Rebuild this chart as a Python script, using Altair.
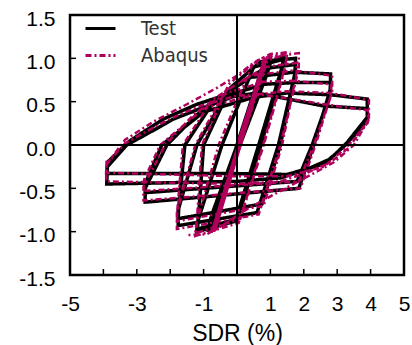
import altair as alt
import pandas as pd

MAG = "#b0005b"

# ---- Test (black) hysteresis path ----
test_x = [0, 0.3, -0.3, 0.32, -0.32, 0.5, -0.48, 0.52, -0.5, 0.75, -0.7, 0.78, -0.72,
          1.0, 0.85, -0.85, -0.7, 1.05, 0.88, -0.9, -0.75,
          0.9, 1.4, 1.35, 0.65, -0.05, -1.2, -1.15, -0.45, 0.5, 1.4, 1.35, 0.72, 0.0, -1.2, -1.15,
          -1.0, -0.2, 0.7, 1.75, 1.75, 1.24, 0.6, -1.76, -1.76,
          -1.2, -0.3, 0.8, 1.75, 1.72, 1.3, 0.75, -1.76, -1.74,
          -1.56, -0.7, 0.4, 1.7, 2.8, 2.8, 2.3, 1.85, -2.75, -2.75,
          -2.1, -1.2, -0.3, 0.8, 1.7, 2.8, 2.78, 2.25, 1.8, -2.75, -2.72,
          -2.25, -1.0, 0.5, 1.5, 2.8, 3.9, 3.9, 3.3, 2.8, 2.1, 1.3, 0.0, -3.9, -3.88,
          -3.3, -2.5, -1.9, -1.1, -0.1, 0.6, 2.6, 3.9, 3.9, 3.25, 2.6, 1.5, 0.0, -3.9, -3.88,
          -3.2, -2.2, -1.2, 0.0]
test_y = [0, 0.36, -0.36, 0.38, -0.38, 0.6, -0.6, 0.62, -0.62, 0.88, -0.86, 0.9, -0.88,
          1.0, 0.82, -1.0, -0.8, 1.0, 0.8, -1.0, -0.8,
          0.95, 1.02, 0.9, 0.0, -0.88, -1.0, -0.85, 0.0, 0.9, 0.99, 0.87, 0.0, -0.86, -0.97, -0.82,
          0.0, 0.66, 0.96, 1.0, 0.85, 0.0, -0.78, -0.93, -0.75,
          0.0, 0.6, 0.88, 0.93, 0.8, 0.0, -0.68, -0.85, -0.7,
          0.0, 0.5, 0.78, 0.84, 0.82, 0.65, 0.0, -0.5, -0.66, -0.5,
          0.0, 0.35, 0.57, 0.7, 0.72, 0.72, 0.58, 0.0, -0.42, -0.55, -0.42,
          0.0, 0.38, 0.55, 0.6, 0.58, 0.53, 0.32, 0.03, -0.16, -0.28, -0.38, -0.42, -0.45, -0.25,
          0.0, 0.17, 0.3, 0.42, 0.56, 0.6, 0.45, 0.42, 0.28, 0.0, -0.22, -0.34, -0.33, -0.33, -0.2,
          0.05, 0.3, 0.47, 0.62]

# ---- Abaqus (magenta, dash-dot) main path ----
abq_x = [-0.74, 0.95, 1.5, 1.45, 0.78, 0.05, -1.25, -1.2, -0.55, 0.45, 1.5, 1.45, 0.8, 0.1, -1.25, -1.2,
         -1.05, -0.25, 0.7, 1.85, 1.85, 1.3, 0.65, -1.8, -1.8,
         -1.25, -0.35, 0.85, 1.8, 1.78, 1.35, 0.8, -1.8, -1.78,
         -1.62, -0.75, 0.4, 1.7, 2.85, 2.85, 2.35, 1.9, -2.8, -2.8,
         -2.15, -1.25, -0.3, 0.8, 1.7, 2.82, 2.8, 2.3, 1.85, -2.8, -2.78,
         -2.3, -1.0, 0.5, 1.5, 2.8, 3.95, 3.95, 3.35, 2.8, 2.1, 1.3, 0.0, -3.92, -3.9,
         -3.35, -2.5, -1.9, -1.1, 0.0, 0.8, 2.6, 3.92, 3.92, 3.3, 2.6, 1.5, 0.0, -3.92, -3.9]
abq_y = [-1.0, 1.02, 1.07, 0.92, 0.0, -0.9, -1.05, -0.88, 0.0, 0.92, 1.05, 0.9, 0.0, -0.85, -1.02, -0.85,
         0.0, 0.7, 1.0, 1.06, 0.88, 0.0, -0.8, -0.97, -0.78,
         0.0, 0.62, 0.9, 0.95, 0.82, 0.0, -0.7, -0.88, -0.72,
         0.0, 0.52, 0.8, 0.86, 0.8, 0.62, 0.0, -0.5, -0.64, -0.48,
         0.0, 0.37, 0.6, 0.73, 0.74, 0.7, 0.55, 0.0, -0.42, -0.53, -0.4,
         0.0, 0.42, 0.58, 0.62, 0.6, 0.52, 0.3, -0.03, -0.2, -0.32, -0.42, -0.45, -0.42, -0.22,
         0.02, 0.2, 0.32, 0.45, 0.57, 0.58, 0.47, 0.4, 0.26, -0.02, -0.25, -0.36, -0.36, -0.32, -0.18]
# outer Abaqus curves (lower right and upper left)
abq_lr_x = [3.95, 3.5, 2.9, 2.28, 1.3, 0.3, -0.4, -0.9, -1.5]
abq_lr_y = [0.3, 0.0, -0.2, -0.33, -0.53, -0.74, -0.92, -1.03, -1.04]
abq_ul_x = [-3.9, -3.35, -2.5, -1.5, -0.6, 0.0, 0.5, 1.0, 1.6]
abq_ul_y = [-0.22, 0.06, 0.27, 0.47, 0.66, 0.8, 0.95, 1.05, 1.07]
# Abaqus elastic cycles (solid band)
band_x = [0, 0.84, -0.72, 0.9, -0.66, 0.8, -0.76, 0.87, -0.69, 0.82, -0.74]
band_y = [0, 1.0, -1.0, 1.02, -0.99, 0.98, -1.01, 1.0, -1.0, 0.99, -1.0]

x_tick_marks = [-4, -3, -2, -1, 1, 2, 3, 4]
y_tick_marks = [-1.0, -0.5, 0.5, 1.0]
x_labels = [-5, -3, -1, 1, 2, 3, 4, 5]
y_labels = [-1.5, -1.0, -0.5, 0.0, 0.5, 1.0, 1.5]

FONT = "Liberation Sans, Arial, sans-serif"
NARROW = "Liberation Sans Narrow, Arial Narrow, DejaVu Sans Condensed, Roboto Condensed, Liberation Sans, sans-serif"


def frame(xs, ys, series, seg):
    return pd.DataFrame({"x": xs, "y": ys, "series": series, "seg": seg,
                         "idx": list(range(len(xs)))})


test_df = frame(test_x, test_y, "Test", "T0")
abq_df = pd.concat([frame(abq_x, abq_y, "Abaqus", "A0"),
                    frame(abq_lr_x, abq_lr_y, "Abaqus", "A1"),
                    frame(abq_ul_x, abq_ul_y, "Abaqus", "A2")])
band_df = frame(band_x, band_y, "Abaqus", "B0")

xs = alt.Scale(domain=[-5, 5], nice=False, zero=False)
ys = alt.Scale(domain=[-1.5, 1.5], nice=False, zero=False)

x_axis = alt.Axis(values=x_labels, title="SDR (%)", grid=False, domain=False,
                  ticks=False, labelFontSize=21, labelFont=FONT,
                  labelExpr="(datum.value < 0 ? '-' : '') + format(abs(datum.value), 'd')",
                  labelColor="black", labelPadding=18, labelFlush=False,
                  titleFontSize=23, titleFont=FONT,
                  titleFontWeight="normal", titleColor="black", titlePadding=8)
y_axis = alt.Axis(values=y_labels, title=None, grid=False,
                  domain=False, ticks=False, labelFontSize=21,
                  labelExpr="(datum.value < 0 ? '-' : '') + format(abs(datum.value), '.1f')",
                  labelFont=FONT, labelColor="black",
                  labelPadding=15, labelOffset=4, labelFlush=False)

leg = alt.Legend(orient="none", legendX=14, legendY=-3, title=None,
                 symbolType="stroke", symbolSize=900, symbolStrokeWidth=3,
                 labelFontSize=20, labelFont=NARROW,
                 labelColor="#333", labelOffset=24, rowPadding=-12)
color = alt.Color("series:N", scale=alt.Scale(domain=["Test", "Abaqus"], range=["black", MAG]), legend=leg)
dash = alt.StrokeDash("series:N", scale=alt.Scale(domain=["Test", "Abaqus"], range=[[1, 0], [6, 3, 2, 3]]),
                      legend=leg)


def X(field):
    return alt.X(field, scale=xs, axis=x_axis)


def Y(field):
    return alt.Y(field, scale=ys, axis=y_axis)


test_layer = alt.Chart(test_df).mark_line(strokeWidth=3.5, strokeJoin="miter").encode(
    x=X("x:Q"), y=Y("y:Q"), color=color, strokeDash=dash, detail="seg:N", order="idx:Q")

abq_layer = alt.Chart(abq_df).mark_line(strokeWidth=2.5).encode(
    x=X("x:Q"), y=Y("y:Q"), color=color, strokeDash=dash, detail="seg:N", order="idx:Q")

band_layer = alt.Chart(band_df).mark_line(strokeWidth=2.5, color=MAG).encode(
    x=X("x:Q"), y=Y("y:Q"), detail="seg:N", order="idx:Q")

zero_x = alt.Chart(pd.DataFrame({"x": [0]})).mark_rule(color="black", strokeWidth=2).encode(
    x=X("x:Q"))
zero_y = alt.Chart(pd.DataFrame({"y": [0]})).mark_rule(color="black", strokeWidth=2).encode(
    y=Y("y:Q"))
xticks = alt.Chart(pd.DataFrame({"x": x_tick_marks})).mark_rule(color="black", strokeWidth=1.5).encode(
    x=X("x:Q"), y=alt.value(260), y2=alt.value(254))
yticks = alt.Chart(pd.DataFrame({"y": y_tick_marks})).mark_rule(color="black", strokeWidth=1.5).encode(
    y=Y("y:Q"), x=alt.value(0), x2=alt.value(6))

chart = alt.layer(test_layer, band_layer, abq_layer, zero_x, zero_y, xticks, yticks).properties(
    width=334, height=260,
    padding={"left": 70, "top": 15, "right": 8, "bottom": 70},
    autosize=alt.AutoSizeParams(type="none"),
    background="white",
).configure_view(stroke="black", strokeWidth=2.5)

chart.save("out.html", embed_options={"renderer": "svg", "actions": False})
